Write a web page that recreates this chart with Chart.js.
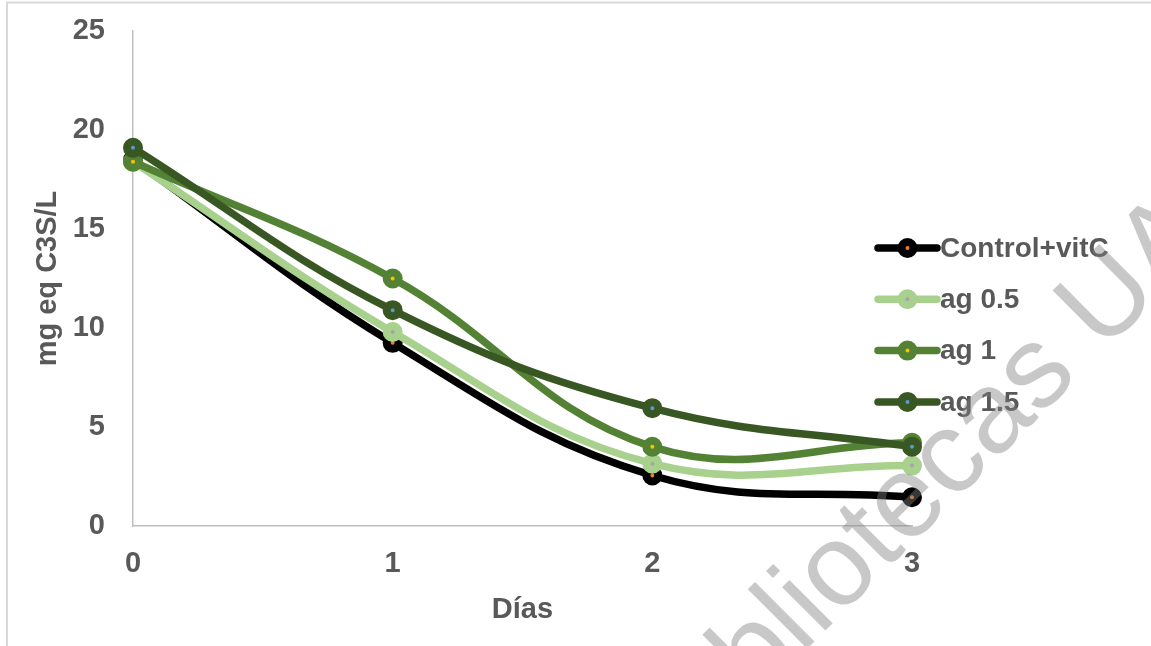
<!DOCTYPE html>
<html>
<head>
<meta charset="utf-8">
<script src="https://cdn.jsdelivr.net/npm/chart.js@4/dist/chart.umd.min.js"></script>
<style>
  html, body { margin: 0; padding: 0; background: #ffffff; }
  #wrap { position: relative; width: 1151px; height: 646px; }
</style>
</head>
<body>
<div id="wrap"><canvas id="c"></canvas></div>
<script>
// Días de almacenamiento
const days = [0, 1, 2, 3];
// mg eq C3S/L por tratamiento
const seriesNames = ['Control+vitC', 'ag 0.5', 'ag 1', 'ag 1.5'];
const controlVitC = [18.5, 9.25, 2.55, 1.45];
const ag05 = [18.4, 9.8, 3.15, 3.05];
const ag1 = [18.4, 12.5, 4.0, 4.2];
const ag15 = [19.1, 10.9, 5.95, 4.0];
const yTicks = [0, 5, 10, 15, 20, 25];
const xTitle = 'Días';
const yTitle = 'mg eq C3S/L';
const watermark = 'Bibliotecas UA';

const lineColors = ['#000000', '#a9d18e', '#548235', '#385723'];
const dotColors = ['#ed7d31', '#a5a5a5', '#ffc000', '#5b9bd5'];
const allValues = [controlVitC, ag05, ag1, ag15];

const FONT = '"Liberation Sans", Arial, sans-serif';
const TEXT = '#595959';

Chart.defaults.font.family = FONT;
Chart.defaults.font.weight = 'bold';
Chart.defaults.font.size = 29;
Chart.defaults.color = TEXT;

const datasets = allValues.map((vals, i) => ({
  label: seriesNames[i],
  data: days.map((d, k) => ({ x: d, y: vals[k] })),
  borderColor: lineColors[i],
  backgroundColor: lineColors[i],
  borderWidth: 7.5,
  borderCapStyle: 'round',
  borderJoinStyle: 'round',
  tension: 0.4,
  pointRadius: 6,
  pointBorderWidth: 8,
  pointBackgroundColor: dotColors[i],
  pointBorderColor: lineColors[i],
  pointHoverRadius: 6,
  clip: false,
  order: allValues.length - i
}));

// frame around the figure
const framePlugin = {
  id: 'frame',
  beforeDraw(chart) {
    const ctx = chart.ctx;
    ctx.save();
    ctx.fillStyle = '#ffffff';
    ctx.fillRect(0, 0, chart.width, chart.height);
    ctx.strokeStyle = '#d9d9d9';
    ctx.lineWidth = 2;
    ctx.strokeRect(7, 2.5, chart.width + 20, chart.height + 20);
    ctx.restore();
  }
};

// legend on the right: line sample with marker, then label
const legendPlugin = {
  id: 'sideLegend',
  afterDatasetsDraw(chart) {
    const ctx = chart.ctx;
    const x0 = 878, x1 = 937, xm = 907.5, tx = 940;
    const yStart = 248, step = 51.3;
    ctx.save();
    chart.data.datasets.forEach((ds, i) => {
      const y = yStart + i * step;
      ctx.strokeStyle = ds.borderColor;
      ctx.lineWidth = 7.5;
      ctx.lineCap = 'round';
      ctx.beginPath();
      ctx.moveTo(x0, y);
      ctx.lineTo(x1, y);
      ctx.stroke();
      ctx.beginPath();
      ctx.arc(xm, y, 6, 0, Math.PI * 2);
      ctx.fillStyle = ds.pointBackgroundColor;
      ctx.fill();
      ctx.lineWidth = 8;
      ctx.strokeStyle = ds.pointBorderColor;
      ctx.stroke();
      ctx.fillStyle = TEXT;
      ctx.font = 'bold 28px ' + FONT;
      ctx.textAlign = 'left';
      ctx.textBaseline = 'middle';
      ctx.fillText(ds.label, tx, y + 1);
    });
    ctx.restore();
  }
};

// translucent diagonal watermark
const watermarkPlugin = {
  id: 'watermark',
  afterDraw(chart) {
    const ctx = chart.ctx;
    ctx.save();
    ctx.translate(950, 506);
    ctx.rotate(-45 * Math.PI / 180);
    ctx.font = 'normal 116px ' + FONT;
    ctx.textAlign = 'center';
    ctx.textBaseline = 'alphabetic';
    ctx.fillStyle = 'rgba(128,128,128,0.43)';
    ctx.fillText(watermark, 0, 0);
    ctx.restore();
  }
};

new Chart(document.getElementById('c'), {
  type: 'line',
  data: { datasets },
  plugins: [framePlugin, legendPlugin, watermarkPlugin],
  options: {
    responsive: true,
    maintainAspectRatio: false,
    animation: false,
    devicePixelRatio: 1,
    layout: { padding: { left: 0, right: 239, top: 31, bottom: 0 } },
    plugins: {
      legend: { display: false },
      tooltip: { enabled: false }
    },
    scales: {
      x: {
        type: 'linear',
        min: 0,
        max: 3,
        afterFit(scale) {
          scale.height = 120;
          scale.paddingLeft = 0;
          scale.paddingRight = 0;
        },
        afterBuildTicks(scale) { scale.ticks = days.map(v => ({ value: v })); },
        grid: { display: false },
        border: { display: true, color: '#bfbfbf', width: 1.5 },
        ticks: { padding: 13, color: TEXT, font: { size: 29, weight: 'bold' } },
        title: {
          display: true, text: xTitle, color: TEXT,
          font: { size: 29, weight: 'bold' },
          padding: { top: 0, bottom: 19 }
        }
      },
      y: {
        min: 0,
        max: 25,
        afterFit(scale) {
          scale.width = 133;
          scale.paddingTop = 0;
          scale.paddingBottom = 0;
        },
        afterBuildTicks(scale) { scale.ticks = yTicks.map(v => ({ value: v })); },
        grid: { display: false },
        border: { display: true, color: '#bfbfbf', width: 1.5 },
        ticks: { padding: 20, color: TEXT, font: { size: 29, weight: 'bold' } },
        title: {
          display: true, text: yTitle, color: TEXT,
          font: { size: 29, weight: 'bold' },
          padding: { top: 31, bottom: 0 }
        }
      }
    }
  }
});
</script>
</body>
</html>
